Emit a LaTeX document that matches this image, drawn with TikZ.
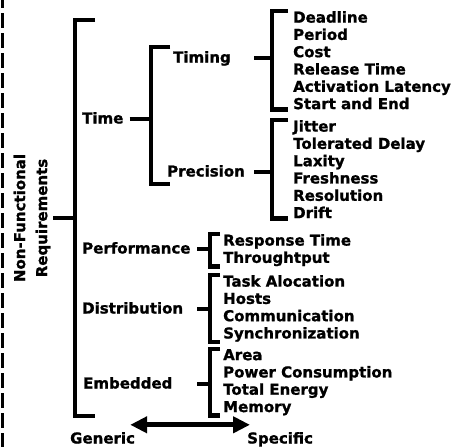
\documentclass[tikz,border=0pt]{standalone}
\usepackage{fontspec}
\setmainfont[BoldFeatures={FakeBold=1.2}]{DejaVu Sans}
\usepackage{tikz}
\usetikzlibrary{arrows.meta, calc}
\tikzset{
  lbl/.style={font=\fontsize{15}{17.3}\selectfont\bfseries, inner sep=0pt, text height=11pt, text depth=2pt, anchor=west},
  lst/.style={font=\fontsize{15}{17.3}\selectfont\bfseries, inner sep=0pt, align=left, anchor=north west},
  rootlbl/.style={font=\fontsize{15}{22}\selectfont\bfseries, inner sep=0pt, align=center, rotate=90},
  brk/.style={line width=4.5pt, line join=miter},
  scalearrow/.style={{Triangle[length=17pt,width=16pt]}-{Triangle[length=17pt,width=16pt]}, line width=5pt},
  sideline/.style={line width=3pt, dash pattern=on 15pt off 5pt, dash phase=6.7pt}
}

\begin{document}
\begin{tikzpicture}[x=1pt, y=-1pt]
  \useasboundingbox (0,0) rectangle (453,447);

  % Side line
  \draw[sideline] (2,0) -- (2,447);

  % Root and main bracket
  \node[rootlbl] (nfr) at (32,218) {Non-Functional\\Requirements};
  \coordinate (mainTop) at (75,20);
  \coordinate (mainBot) at (75,416);
  \draw[brk] ([xshift=20pt]mainTop) -- (mainTop) -- (mainBot) -- ([xshift=20pt]mainBot);
  \draw[brk] ([xshift=3pt]nfr.south) -- (nfr.south -| mainTop);

  % Second level
  \node[lbl] (time) at (82,119) {Time};
  \node[lbl] (perf) at (82,249) {Performance};
  \node[lbl] (distr) at (82,309) {Distribution};
  \node[lbl] (embed) at (83,384) {Embedded};

  % Time bracket
  \coordinate (timeTop) at (151,47);
  \coordinate (timeBot) at (151,184);
  \draw[brk] ([xshift=19pt]timeTop) -- (timeTop) -- (timeBot) -- ([xshift=19pt]timeBot);
  \draw[brk] ([xshift=6pt]time.east) -- (time -| timeTop);
  \node[lbl] (timing) at (173,58) {Timing};
  \node[lbl] (prec) at (167,172) {Precision};

  % Timing
  \node[lst] (tmgList) at (293,11) {Deadline\\Period\\Cost\\Release Time\\Activation Latency\\Start and End};
  \draw[brk] ([xshift=-5pt]tmgList.north west) -- ([xshift=-21pt]tmgList.north west) |- ([xshift=-5pt]tmgList.south west);
  \draw[brk] ($(tmgList.west |- timing)+(-21,0)$) -- ++(-18,0);

  % Precision
  \node[lst] (precList) at (293,120) {Jitter\\Tolerated Delay\\Laxity\\Freshness\\Resolution\\Drift};
  \draw[brk] ([xshift=-5pt]precList.north west) -- ([xshift=-21pt]precList.north west) |- ([xshift=-5pt]precList.south west);
  \draw[brk] ($(precList.west |- prec)+(-21,0)$) -- ++(-18,0);

  % Performance
  \node[lst] (perfList) at (223,234) {Response Time\\Throughtput};
  \draw[brk] ([xshift=-3pt]perfList.north west) -- ([xshift=-13pt]perfList.north west) |- ([xshift=-3pt]perfList.south west);
  \draw[brk] ($(perfList.west |- perf)+(-13,0)$) -- ++(-13,0);

  % Distribution
  \node[lst] (distrList) at (223,275) {Task Alocation\\Hosts\\Communication\\Synchronization};
  \draw[brk] ([xshift=-3pt]distrList.north west) -- ([xshift=-13pt]distrList.north west) |- ([xshift=-3pt]distrList.south west);
  \draw[brk] ($(distrList.west |- distr)+(-13,0)$) -- ++(-13,0);

  % Embedded
  \node[lst] (embList) at (223,349) {Area\\Power Consumption\\Total Energy\\Memory};
  \draw[brk] ([xshift=-3pt]embList.north west) -- ([xshift=-13pt]embList.north west) |- ([xshift=-3pt]embList.south west);
  \draw[brk] ($(embList.west |- embed)+(-13,0)$) -- ++(-13,0);

  % Generic - Specific scale
  \node[lbl] (generic) at (70,439) {Generic};
  \node[lbl] (specific) at (247,439) {Specific};
  \draw[scalearrow] ($(generic.north east)+(-5,-7.5)$) -- ($(specific.north west)+(3,-7.5)$);
\end{tikzpicture}
\end{document}
